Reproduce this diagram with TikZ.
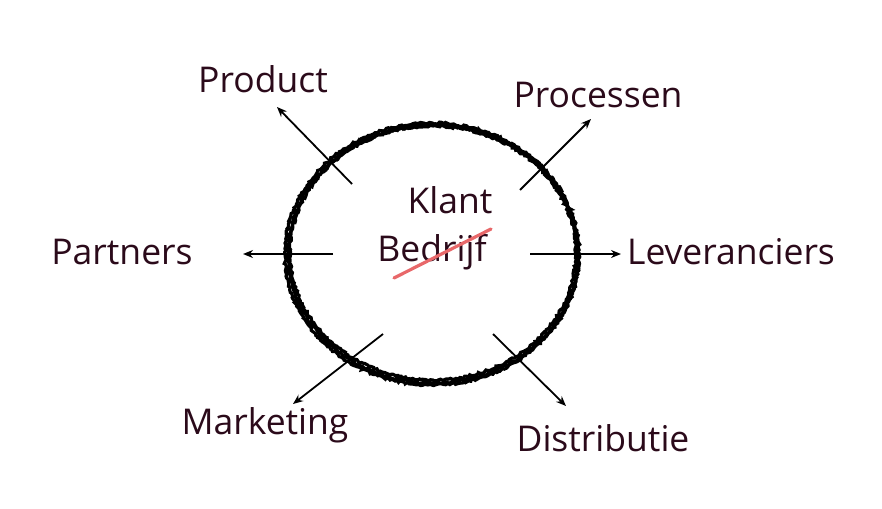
\documentclass[tikz,border=0pt]{standalone}
\usepackage{fontspec}
\setmainfont{Open Sans}
\usetikzlibrary{arrows.meta,decorations.pathmorphing}
\definecolor{inkt}{HTML}{2B0A1A}
\definecolor{streep}{HTML}{E8686A}
\tikzstyle{lbl}=[text=inkt,font=\fontsize{35.5}{40}\selectfont,inner sep=0pt]
\tikzstyle{arr}=[-{Stealth[length=10pt,width=8pt]},line width=1.8pt]
\tikzstyle{krijt}=[line width=3.2pt,decorate,decoration={random steps,segment length=2pt,amplitude=1.1pt}]

\begin{document}
\begin{tikzpicture}[x=1pt,y=-1pt]
\useasboundingbox (0,0) rectangle (882,508);
% ring
\draw[krijt] (433,254) ellipse [x radius=145,y radius=129];
\draw[krijt] (433,253) ellipse [x radius=143,y radius=127];
\draw[krijt] (432,254) ellipse [x radius=147,y radius=131];
% woorden in het midden
\node[lbl] (klant) at (450,200) {Klant};
\node[lbl] (bedrijf) at (432,252) {Bedrijf};
\coordinate (s1) at (394,278);
\coordinate (s2) at (491,229);
\draw[streep,line width=3.2pt,line cap=round] (s1) -- (s2);
% labels rondom
\node[lbl] (product) at (263,79) {Product};
\node[lbl] (processen) at (598,95) {Processen};
\node[lbl] (partners) at (122,252) {Partners};
\node[lbl] (leveranciers) at (731,252) {Leveranciers};
\node[lbl] (marketing) at (265,425) {Marketing};
\node[lbl] (distributie) at (603,438) {Distributie};
% pijlen
\coordinate (a1) at (352,184); \coordinate (b1) at (277,107);
\coordinate (a2) at (520,190); \coordinate (b2) at (591,119);
\coordinate (a3) at (333,254); \coordinate (b3) at (243,254);
\coordinate (a4) at (530,254); \coordinate (b4) at (621,254);
\coordinate (a5) at (383,334); \coordinate (b5) at (293,404);
\coordinate (a6) at (493,334); \coordinate (b6) at (566,406);
\foreach \i in {1,...,6}
  \draw[arr] (a\i) -- (b\i);
\end{tikzpicture}
\end{document}
